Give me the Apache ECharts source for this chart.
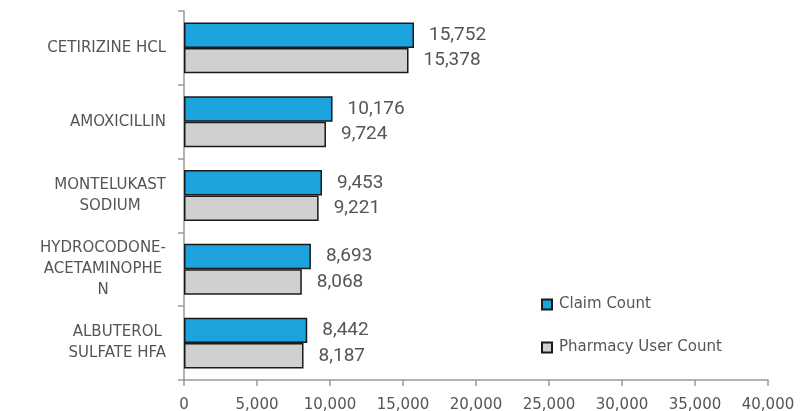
<!DOCTYPE html>
<html><head><meta charset="utf-8">
<script src="https://cdn.jsdelivr.net/npm/echarts@6/dist/echarts.min.js"></script>
<style>html,body{margin:0;padding:0;background:#fff}#c{width:801px;height:411px}</style>
</head><body><div id="c"></div>
<script>
const categories = ["CETIRIZINE HCL", "AMOXICILLIN", "MONTELUKAST\nSODIUM", "HYDROCODONE-\nACETAMINOPHE\nN", "ALBUTEROL\nSULFATE HFA"];
const claimCount = [15752, 10176, 9453, 8693, 8442];
const userCount = [15378, 9724, 9221, 8068, 8187];
const seriesNames = ["Claim Count", "Pharmacy User Count"];
const xTicks = {min: 0, max: 40000, interval: 5000};

const font = "DejaVu Sans";
const txt = '#555555';
const chart = echarts.init(document.getElementById('c'));
const lbl = {show: true, position: 'right', distance: 15, color: txt, fontSize: 19, fontFamily: 'Roboto',
  formatter: p => p.value.toLocaleString('en-US')};
chart.setOption({
  animation: false,
  grid: {left: 184, right: 33, top: 11, bottom: 31, containLabel: false, outerBoundsMode: 'none'},
  legend: {orient: 'vertical', left: 536, top: 292, itemGap: 28, itemWidth: 10, itemHeight: 10,
    icon: 'rect', textStyle: {color: txt, fontSize: 15, fontFamily: font, padding: [0, 0, 0, 2]},
    data: seriesNames},
  xAxis: {type: 'value', min: xTicks.min, max: xTicks.max, interval: xTicks.interval,
    splitLine: {show: false},
    axisLine: {show: true, lineStyle: {color: '#9a9a9a', width: 1.5}},
    axisTick: {show: true, length: 6, lineStyle: {color: '#9a9a9a', width: 1.5}},
    axisLabel: {color: txt, fontSize: 15, fontFamily: font, margin: 18,
      formatter: v => v.toLocaleString('en-US')}},
  yAxis: {type: 'category', data: categories, inverse: true,
    axisLine: {show: true, lineStyle: {color: '#9a9a9a', width: 1.5}},
    axisTick: {show: true, length: 6, lineStyle: {color: '#9a9a9a', width: 1.5}},
    axisLabel: {color: txt, fontSize: 15, fontFamily: font, margin: 18, lineHeight: 21, align: 'right',
      formatter: v => v.split('\n').map(l => '{c|' + l + '}').join('\n'),
      rich: {c: {align: 'center', color: txt, fontSize: 15, fontFamily: font, lineHeight: 21}}}},
  series: [
    {name: seriesNames[0], type: 'bar', data: claimCount, barGap: '0%', barCategoryGap: '31%',
      itemStyle: {color: '#1ca3de', borderColor: '#1a1a1a', borderWidth: 1.5}, label: lbl},
    {name: seriesNames[1], type: 'bar', data: userCount,
      itemStyle: {color: '#d0d0d0', borderColor: '#1a1a1a', borderWidth: 1.5}, label: lbl}
  ]
});
</script></body></html>
